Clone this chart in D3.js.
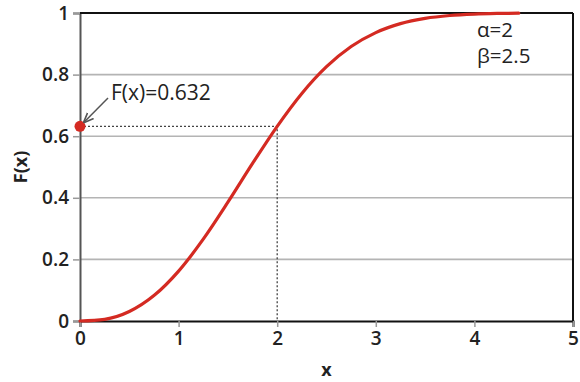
<!DOCTYPE html>
<html>
<head>
<meta charset="utf-8">
<script src="https://cdn.jsdelivr.net/npm/d3@7"></script>
<style>
  html, body { margin: 0; padding: 0; background: #fff; }
  svg { display: block; }
</style>
</head>
<body>
<svg id="chart" width="580" height="382"></svg>
<script>
// Weibull cumulative distribution curve, sampled points
const xValues = [0, 0.25, 0.5, 0.75, 1, 1.25, 1.5, 1.75, 2, 2.25, 2.5, 2.75, 3, 3.25, 3.5, 3.75, 4, 4.25, 4.45];
const fValues = [0, 0.0055, 0.0308, 0.0825, 0.162, 0.2657, 0.3856, 0.5114, 0.632, 0.7388, 0.8257, 0.8911, 0.9364, 0.9655, 0.9826, 0.9919, 0.9965, 0.9986, 0.9995];

const xTicks = [0, 1, 2, 3, 4, 5];
const yTicks = [0, 0.2, 0.4, 0.6, 0.8, 1];
const yTickLabels = ["0", "0.2", "0.4", "0.6", "0.8", "1"];

// Highlighted point
const markX = [2];
const markF = [0.632];
const markLabel = "F(x)=0.632";
const paramLabels = ["α=2", "β=2.5"];

const svg = d3.select("#chart");
const m = { left: 80, right: 7, top: 13, bottom: 61 };
const W = 580, H = 382;

const x = d3.scaleLinear().domain([0, 5]).range([m.left, W - m.right]);
const y = d3.scaleLinear().domain([0, 1]).range([H - m.bottom, m.top]);

const tickFont = "'Open Sans', 'Liberation Sans', sans-serif";

// Horizontal gridlines
svg.append("g")
  .selectAll("line")
  .data(yTicks.filter(d => d > 0 && d < 1))
  .join("line")
  .attr("x1", x(0)).attr("x2", x(5))
  .attr("y1", d => y(d)).attr("y2", d => y(d))
  .attr("stroke", "#b4b4b4").attr("stroke-width", 1.6);

// Y axis
const yAxis = svg.append("g")
  .attr("transform", `translate(${x(0)},0)`)
  .call(d3.axisLeft(y).tickValues(yTicks).tickFormat((d, i) => yTickLabels[i]).tickSize(7).tickPadding(4));
yAxis.select(".domain").attr("stroke", "#555").attr("stroke-width", 2);
yAxis.selectAll(".tick line").attr("stroke", "#999").attr("stroke-width", 1.5);
yAxis.selectAll(".tick text")
  .attr("fill", "#222").style("font-family", tickFont)
  .style("font-size", "19px").style("font-weight", "600");

// X axis
const xAxis = svg.append("g")
  .attr("transform", `translate(0,${y(0)})`)
  .call(d3.axisBottom(x).tickValues(xTicks).tickFormat(d3.format("d")).tickSize(6).tickPadding(5));
xAxis.select(".domain").attr("stroke", "#111").attr("stroke-width", 2);
xAxis.selectAll(".tick line").attr("stroke", "#999").attr("stroke-width", 1.5);
xAxis.selectAll(".tick text")
  .attr("fill", "#222").style("font-family", tickFont)
  .style("font-size", "19px").style("font-weight", "600");

// Top and right frame edges
svg.append("line")
  .attr("x1", x(0)).attr("x2", x(5)).attr("y1", y(1)).attr("y2", y(1))
  .attr("stroke", "#111").attr("stroke-width", 2);
svg.append("line")
  .attr("x1", x(5)).attr("x2", x(5)).attr("y1", y(1)).attr("y2", y(0))
  .attr("stroke", "#111").attr("stroke-width", 2);

// Dotted guide lines to the marked point
svg.append("path")
  .attr("d", `M${x(0)},${y(markF[0])}H${x(markX[0])}V${y(0)}`)
  .attr("fill", "none").attr("stroke", "#444")
  .attr("stroke-width", 1.3).attr("stroke-dasharray", "2,2");

// CDF curve
const pts = xValues.map((v, i) => [v, fValues[i]]);
svg.append("path")
  .datum(pts)
  .attr("fill", "none")
  .attr("stroke", "#d42a22")
  .attr("stroke-width", 3.2)
  .attr("stroke-linecap", "round")
  .attr("d", d3.line().x(d => x(d[0])).y(d => y(d[1])).curve(d3.curveMonotoneX));

// Marked point on the F axis
svg.append("circle")
  .attr("cx", x(0)).attr("cy", y(markF[0])).attr("r", 5.5)
  .attr("fill", "#d42a22");

// Arrow from label to point
svg.append("defs").append("marker")
  .attr("id", "arrow").attr("viewBox", "0 0 10 10")
  .attr("refX", 9).attr("refY", 5)
  .attr("markerWidth", 7).attr("markerHeight", 7)
  .attr("orient", "auto")
  .append("path").attr("d", "M0,1L10,5L0,9").attr("fill", "none")
  .attr("stroke", "#555").attr("stroke-width", 1.5);

svg.append("line")
  .attr("x1", 108).attr("y1", 98)
  .attr("x2", x(0) + 4).attr("y2", y(markF[0]) - 4)
  .attr("stroke", "#555").attr("stroke-width", 1.5)
  .attr("marker-end", "url(#arrow)");

const annFont = "'Open Sans', 'Liberation Sans', sans-serif";
svg.append("text")
  .attr("x", 111).attr("y", 100)
  .attr("fill", "#222").style("font-family", annFont).style("font-size", "21px")
  .text(markLabel);

svg.append("g")
  .selectAll("text")
  .data(paramLabels)
  .join("text")
  .attr("x", 477).attr("y", (d, i) => 37 + i * 26)
  .attr("fill", "#222").style("font-family", annFont).style("font-size", "20.5px")
  .text(d => d);

// Axis titles
svg.append("text")
  .attr("x", (x(0) + x(5)) / 2).attr("y", 376)
  .attr("text-anchor", "middle")
  .attr("fill", "#222").style("font-family", tickFont)
  .style("font-size", "18px").style("font-weight", "700")
  .text("x");

svg.append("text")
  .attr("transform", `translate(27,${(y(0) + y(1)) / 2}) rotate(-90)`)
  .attr("text-anchor", "middle")
  .attr("fill", "#222").style("font-family", tickFont)
  .style("font-size", "18px").style("font-weight", "700")
  .text("F(x)");
</script>
</body>
</html>
